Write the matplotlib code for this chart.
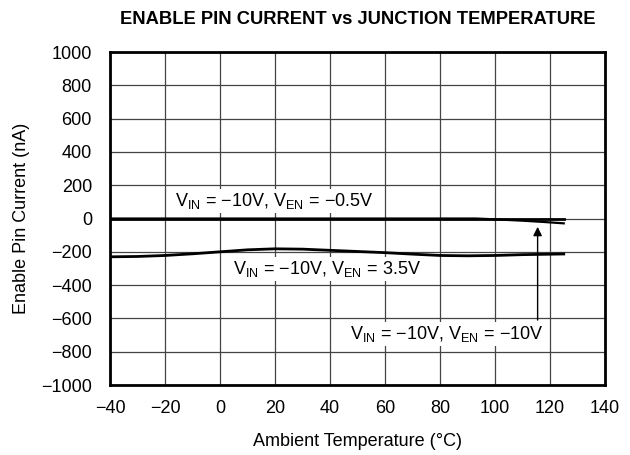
import matplotlib
matplotlib.use("Agg")
import matplotlib.pyplot as plt
import numpy as np

plt.rcParams['font.family'] = ['Liberation Sans', 'DejaVu Sans']
plt.rcParams['mathtext.fontset'] = 'custom'
plt.rcParams['mathtext.rm'] = 'Liberation Sans'
plt.rcParams['mathtext.default'] = 'regular'

# Data
temp_en_05 = [-40, 0, 40, 80, 125]
cur_en_05 = [0, 0, 0, 0, 0]

temp_en_10 = [-40, 0, 40, 80, 93, 100, 110, 118, 125]
cur_en_10 = [0, 0, 0, 0, 0, -5, -13, -21, -29]

temp_en_35 = [-40, -30, -20, -10, 0, 10, 20, 30, 40, 50, 60, 70, 80, 90, 100, 110, 125]
cur_en_35 = [-230, -228, -222, -212, -200, -188, -182, -184, -191, -198, -205, -214, -222, -224, -222, -217, -213]

x_ticks = [-40, -20, 0, 20, 40, 60, 80, 100, 120, 140]
y_ticks = [-1000, -800, -600, -400, -200, 0, 200, 400, 600, 800, 1000]
y_tick_labels = ['−1000', '−800', '−600', '−400', '−200', '0', '200', '400', '600', '800', '1000']
x_tick_labels = ['−40', '−20', '0', '20', '40', '60', '80', '100', '120', '140']

fig = plt.figure(figsize=(6.3, 4.55), dpi=100)
ax = fig.add_axes([0.1746, 0.1538, 0.7857, 0.7319])

ax.plot(temp_en_05, cur_en_05, color='black', lw=2.0, zorder=3)
ax.plot(temp_en_10, cur_en_10, color='black', lw=1.6, zorder=3)
ax.plot(temp_en_35, cur_en_35, color='black', lw=2.0, zorder=3)

ax.set_xlim(-40, 140)
ax.set_ylim(-1000, 1000)
ax.set_xticks(x_ticks)
ax.set_xticklabels(x_tick_labels)
ax.set_yticks(y_ticks)
ax.set_yticklabels(y_tick_labels)
ax.tick_params(length=0, labelsize=13, colors='black')
ax.tick_params(axis='y', pad=13)
ax.tick_params(axis='x', pad=11)
ax.grid(True, color='#444444', lw=0.9, zorder=1)
ax.set_axisbelow(True)
for s in ax.spines.values():
    s.set_linewidth(2.0)

box = dict(facecolor='white', edgecolor='none', pad=1.5)
ax.text(-16.4, 75, 'V$_{IN}$ = −10V, V$_{EN}$ = −0.5V', fontsize=13, va='baseline', ha='left', bbox=box, zorder=4)
ax.text(4.7, -335, 'V$_{IN}$ = −10V, V$_{EN}$ = 3.5V', fontsize=13, va='baseline', ha='left', bbox=box, zorder=4)
ax.text(47.3, -725, 'V$_{IN}$ = −10V, V$_{EN}$ = −10V', fontsize=13, va='baseline', ha='left', bbox=box, zorder=4)

ax.annotate('', xy=(115.5, -50), xytext=(115.5, -610),
            arrowprops=dict(arrowstyle='-|>', color='black', lw=1.0, mutation_scale=13,
                            shrinkA=0, shrinkB=0), zorder=5)

ax.set_xlabel('Ambient Temperature (°C)', fontsize=13, labelpad=11)
ax.set_ylabel('Enable Pin Current (nA)', fontsize=13, labelpad=8)
fig.text(0.568, 0.958, 'ENABLE PIN CURRENT vs JUNCTION TEMPERATURE', fontsize=13.2,
         fontweight='bold', ha='center', va='center')

fig.savefig('out.png', dpi=100)
